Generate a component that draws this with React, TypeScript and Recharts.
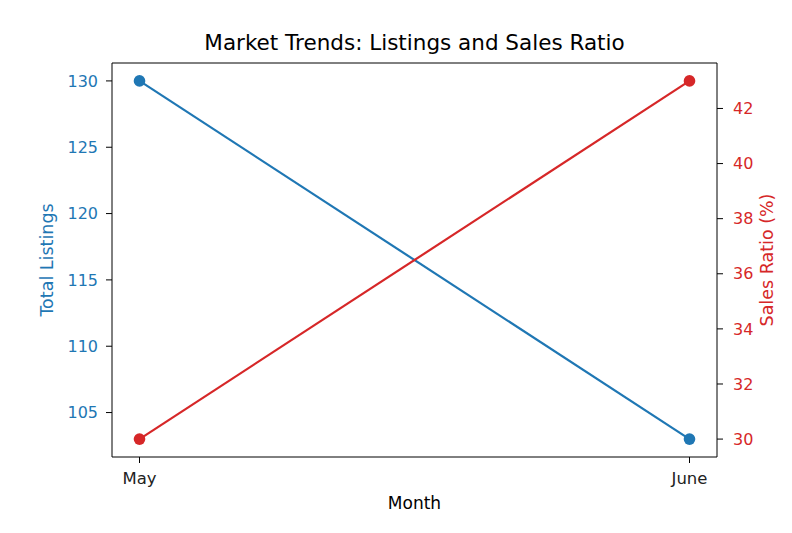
import React from 'react';
import { LineChart, Line, XAxis, YAxis, Label, ReferenceLine } from 'recharts';

// Values
const months = ['May', 'June'];
const totalListings = [130, 103];
const salesRatio = [30, 43];
const listingTicks = [105, 110, 115, 120, 125, 130];
const ratioTicks = [30, 32, 34, 36, 38, 40, 42];

const BLUE = '#1f77b4';
const RED = '#d62728';
const FONT = 'DejaVu Sans, sans-serif';
const LEFT_DOMAIN: [number, number] = [101.65, 131.35];

const data = months.map((m, i) => ({
  idx: i,
  month: m,
  listings: totalListings[i],
  ratio: salesRatio[i],
}));

const App = () => {
  return (
    <div style={{ position: 'absolute', left: 0, top: 0, width: 792, height: 533, background: '#fff', fontFamily: FONT }}>
      <div
        style={{
          position: 'absolute',
          top: 30,
          left: 112,
          width: 605,
          textAlign: 'center',
          fontSize: 21.5,
          color: '#000',
          lineHeight: '26px',
        }}
      >
        Market Trends: Listings and Sales Ratio
      </div>
      <LineChart
        width={792}
        height={533}
        data={data}
        margin={{ top: 63, right: 20, bottom: 20, left: 42 }}
        style={{ fontFamily: FONT }}
      >
        <XAxis
          dataKey="idx"
          type="number"
          domain={[-0.05, 1.05]}
          ticks={[0, 1]}
          tickFormatter={(v: number) => months[v]}
          height={56}
          tickSize={6}
          tickMargin={9}
          stroke="#000"
          tick={{ fill: '#222', fontSize: 16.5 }}
          tickLine={{ stroke: '#000' }}
          axisLine={{ stroke: '#000' }}
        >
          <Label value="Month" position="insideBottom" offset={4} style={{ fill: '#000', fontSize: 17 }} />
        </XAxis>
        <YAxis
          yAxisId="left"
          type="number"
          domain={LEFT_DOMAIN}
          ticks={listingTicks}
          width={70}
          tickSize={6}
          tickMargin={8}
          tick={{ fill: BLUE, fontSize: 16 }}
          tickLine={{ stroke: '#000' }}
          axisLine={{ stroke: '#000' }}
        >
          <Label
            value="Total Listings"
            angle={-90}
            position="insideLeft"
            offset={5}
            style={{ fill: BLUE, fontSize: 17.5, textAnchor: 'middle' }}
          />
        </YAxis>
        <YAxis
          yAxisId="right"
          orientation="right"
          type="number"
          domain={[29.35, 43.65]}
          ticks={ratioTicks}
          width={55}
          tickSize={6}
          tickMargin={10}
          tick={{ fill: RED, fontSize: 16 }}
          tickLine={{ stroke: '#000' }}
          axisLine={{ stroke: '#000' }}
        >
          <Label
            value="Sales Ratio (%)"
            angle={-90}
            position="insideRight"
            offset={5}
            style={{ fill: RED, fontSize: 17.5, textAnchor: 'middle' }}
          />
        </YAxis>
        {/* top spine */}
        <ReferenceLine yAxisId="left" y={LEFT_DOMAIN[1]} stroke="#000" strokeWidth={1} />
        <Line
          yAxisId="left"
          dataKey="listings"
          stroke={BLUE}
          strokeWidth={2.2}
          dot={{ r: 5.8, fill: BLUE, stroke: BLUE, strokeWidth: 0 }}
          isAnimationActive={false}
        />
        <Line
          yAxisId="right"
          dataKey="ratio"
          stroke={RED}
          strokeWidth={2.2}
          dot={{ r: 5.8, fill: RED, stroke: RED, strokeWidth: 0 }}
          isAnimationActive={false}
        />
      </LineChart>
    </div>
  );
};

export default App;
